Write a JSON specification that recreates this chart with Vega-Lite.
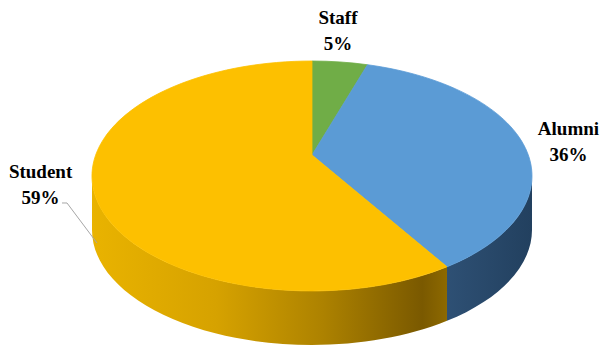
{
  "$schema": "https://vega.github.io/schema/vega-lite/v6.json",
  "width": 582,
  "height": 352,
  "autosize": "none",
  "padding": {"left": 21, "right": 0, "top": 0, "bottom": 2},
  "background": "white",
  "view": {"stroke": null},
  "data": {
    "values": [
      {"group": "Staff", "share": 0.05, "rank": 1},
      {"group": "Alumni", "share": 0.36, "rank": 2},
      {"group": "Student", "share": 0.59, "rank": 3}
    ]
  },
  "layer": [
    {
      "transform": [{"filter": "datum.group === 'Student'"}],
      "mark": {
        "type": "point", "filled": true, "opacity": 1, "size": 193600, "strokeWidth": 0,
        "fill": {
          "gradient": "linear", "x1": 0, "y1": 0, "x2": 1, "y2": 0,
          "stops": [
            {"offset": 0, "color": "#e9b300"},
            {"offset": 0.35, "color": "#d6a200"},
            {"offset": 0.65, "color": "#ad8200"},
            {"offset": 0.93, "color": "#7a5900"},
            {"offset": 1, "color": "#8d6900"}
          ]
        }
      },
      "encoding": {
        "shape": {
          "field": "group", "type": "nominal", "legend": null,
          "scale": {"domain": ["Student"], "range": ["M -1 0 L -1 0.2455 A 1 0.5227 0 0 0 0.6136 0.6582 L 0.6136 0.4127 A 1 0.5227 0 0 1 -1 0 Z"]}
        }
      }
    },
    {
      "transform": [{"filter": "datum.group === 'Alumni'"}],
      "mark": {
        "type": "point", "filled": true, "opacity": 1, "size": 193600, "strokeWidth": 0,
        "fill": {
          "gradient": "linear", "x1": 0, "y1": 0, "x2": 1, "y2": 0,
          "stops": [
            {"offset": 0, "color": "#2e5074"},
            {"offset": 1, "color": "#22405f"}
          ]
        }
      },
      "encoding": {
        "shape": {
          "field": "group", "type": "nominal", "legend": null,
          "scale": {"domain": ["Alumni"], "range": ["M 0.6136 0.4127 L 0.6136 0.6582 A 1 0.5227 0 0 0 1 0.2455 L 1 0 A 1 0.5227 0 0 1 0.6136 0.4127 Z"]}
        }
      }
    },
    {
      "mark": {"type": "point", "filled": true, "opacity": 1, "size": 193600, "strokeWidth": 0.8},
      "encoding": {
        "shape": {
          "field": "group", "type": "nominal", "legend": null,
          "scale": {
            "domain": ["Staff", "Alumni", "Student"],
            "range": [
              "M 0 -0.0955 L 0 -0.5227 A 1 0.5227 0 0 1 0.2523 -0.5058 Z",
              "M 0 -0.0955 L 0.2523 -0.5058 A 1 0.5227 0 0 1 0.6136 0.4127 Z",
              "M 0 -0.0955 L 0.6136 0.4127 A 1 0.5227 0 1 1 0 -0.5227 Z"
            ]
          }
        },
        "color": {
          "field": "group", "type": "nominal", "legend": null,
          "scale": {"domain": ["Staff", "Alumni", "Student"], "range": ["#70ad47", "#5b9bd5", "#fdc000"]}
        },
        "stroke": {
          "field": "group", "type": "nominal", "legend": null,
          "scale": {"domain": ["Staff", "Alumni", "Student"], "range": ["#70ad47", "#5b9bd5", "#fdc000"]}
        }
      }
    },
    {
      "transform": [{"filter": "datum.group === 'Student'"}],
      "mark": {"type": "point", "filled": false, "opacity": 1, "size": 193600, "stroke": "#a6a6a6", "strokeWidth": 1},
      "encoding": {
        "shape": {
          "field": "group", "type": "nominal", "legend": null,
          "scale": {"domain": ["Student"], "range": ["M -1.1364 0.1227 L -1.1136 0.1227 L -0.9773 0.3045"]}
        }
      }
    },
    {
      "mark": {"type": "text", "font": "Liberation Serif", "fontWeight": "bold", "fontSize": 19, "color": "#000000", "align": "center", "baseline": "middle", "dy": -13},
      "encoding": {
        "theta": {"field": "share", "type": "quantitative", "stack": true,
          "scale": {"domain": [0, 0.025, 0.23, 0.705, 1], "range": [0, 0.1768, 1.4371, 4.679, 6.2832]}},
        "radius": {"field": "share", "type": "quantitative",
          "scale": {"type": "linear", "zero": false, "domain": [0.05, 0.36, 0.59], "range": [147.8, 258.8, 271.6]}},
        "order": {"field": "rank", "type": "quantitative"},
        "detail": {"field": "group", "type": "nominal"},
        "text": {"field": "group", "type": "nominal"}
      }
    },
    {
      "mark": {"type": "text", "font": "Liberation Serif", "fontWeight": "bold", "fontSize": 19, "color": "#000000", "align": "center", "baseline": "middle", "dy": 13},
      "encoding": {
        "theta": {"field": "share", "type": "quantitative", "stack": true,
          "scale": {"domain": [0, 0.025, 0.23, 0.705, 1], "range": [0, 0.1768, 1.4371, 4.679, 6.2832]}},
        "radius": {"field": "share", "type": "quantitative",
          "scale": {"type": "linear", "zero": false, "domain": [0.05, 0.36, 0.59], "range": [147.8, 258.8, 271.6]}},
        "order": {"field": "rank", "type": "quantitative"},
        "detail": {"field": "group", "type": "nominal"},
        "text": {"field": "share", "type": "quantitative", "format": ".0%"}
      }
    }
  ],
  "resolve": {"scale": {"shape": "independent", "color": "independent", "stroke": "independent"}}
}
